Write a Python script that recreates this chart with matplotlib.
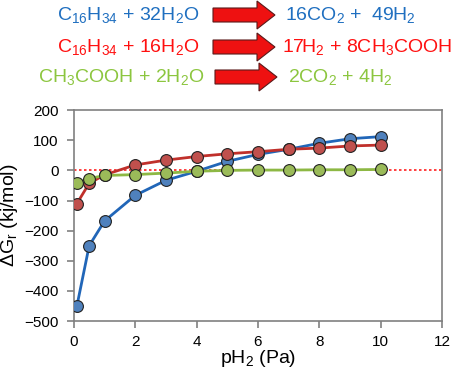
import matplotlib
matplotlib.use("Agg")
import matplotlib.pyplot as plt
import matplotlib.patches as mpatches

plt.rcParams["font.family"] = ["Liberation Sans", "DejaVu Sans"]
plt.rcParams["mathtext.fontset"] = "custom"
plt.rcParams["mathtext.rm"] = "Liberation Sans"
plt.rcParams["mathtext.it"] = "Liberation Sans:italic"

# data
ph2 = [0.1, 0.5, 1, 2, 3, 4, 5, 6, 7, 8, 9, 10]
dg_alkane_co2 = [-450, -250, -168, -83, -33, -3, 30, 53, 70, 90, 105, 112]
dg_alkane_acetate = [-110, -43, -15, 18, 34, 46, 55, 62, 70, 74, 81, 84]
dg_acetate = [-42, -27, -17, -14, -9, -3, 0, 1, 1, 2, 2, 3]

x_ticks = [0, 2, 4, 6, 8, 10, 12]
y_ticks = [-500, -400, -300, -200, -100, 0, 100, 200]

reactions = [
    (r"C$_{\mathrm{16}}$H$_{\mathrm{34}}$ + 32H$_{\mathrm{2}}$O",
     r"16CO$_{\mathrm{2}}$ +  49H$_{\mathrm{2}}$", "#1F6FC0"),
    (r"C$_{\mathrm{16}}$H$_{\mathrm{34}}$ + 16H$_{\mathrm{2}}$O",
     r"17H$_{\mathrm{2}}$ + 8CH$_{\mathrm{3}}$COOH", "#FF1010"),
    (r"CH$_{\mathrm{3}}$COOH + 2H$_{\mathrm{2}}$O",
     r"2CO$_{\mathrm{2}}$ + 4H$_{\mathrm{2}}$", "#8CC63F"),
]

W, H = 453, 372
fig = plt.figure(figsize=(W / 100, H / 100), dpi=100)

# header with reaction equations, drawn in pixel coordinates
top = fig.add_axes([0, 0, 1, 1])
top.set_xlim(0, W)
top.set_ylim(H, 0)
top.axis("off")
rows = [(57, 213, 285, 15), (57, 213, 282, 47), (38, 215, 288, 77)]
for (left, right, color), (xl, xa, xr, yy) in zip(reactions, rows):
    top.text(xl, yy, left, color=color, fontsize=14, ha="left", va="center")
    top.add_patch(mpatches.FancyArrow(
        xa, yy, 62, 0, width=14, head_width=28, head_length=18,
        length_includes_head=True, facecolor="#EE1111",
        edgecolor="#5a1a1a", linewidth=0.8))
    top.text(xr, yy, right, color=color, fontsize=14, ha="left", va="center")

ax = fig.add_axes([0.163, 0.137, 0.813, 0.567])
ax.axhline(0, color="#FF2020", linestyle=(0, (1.5, 1.5)), linewidth=1.2, zorder=1)

series = [
    (dg_alkane_co2, "#2166B8", "#4F81BD"),
    (dg_alkane_acetate, "#C0302B", "#C0504D"),
    (dg_acetate, "#8DB844", "#9BBB59"),
]
for vals, lc, fc in series:
    ax.plot(ph2, vals, color=lc, linewidth=2, marker="o", markersize=8.5,
            markerfacecolor=fc, markeredgecolor="#222222",
            markeredgewidth=0.8, zorder=3)

ax.set_xlim(0, 12)
ax.set_ylim(-500, 200)
ax.set_xticks(x_ticks)
ax.set_yticks(y_ticks)
ax.tick_params(labelsize=11, color="#808080", length=5, width=1.2,
               direction="out", pad=6)
ax.tick_params(axis="x", pad=5)
for s in ax.spines.values():
    s.set_color("#808080")
    s.set_linewidth(1.2)
ax.set_xlabel(r"pH$_{\mathrm{2}}$ (Pa)", fontsize=14, va="bottom")
ax.set_ylabel(r"$\Delta$G$_{\mathrm{r}}$ (kj/mol)", fontsize=14)
ax.xaxis.set_label_coords(0.5, -0.228)
ax.yaxis.set_label_coords(-0.145, 0.5)

fig.savefig("out.png", dpi=100)
